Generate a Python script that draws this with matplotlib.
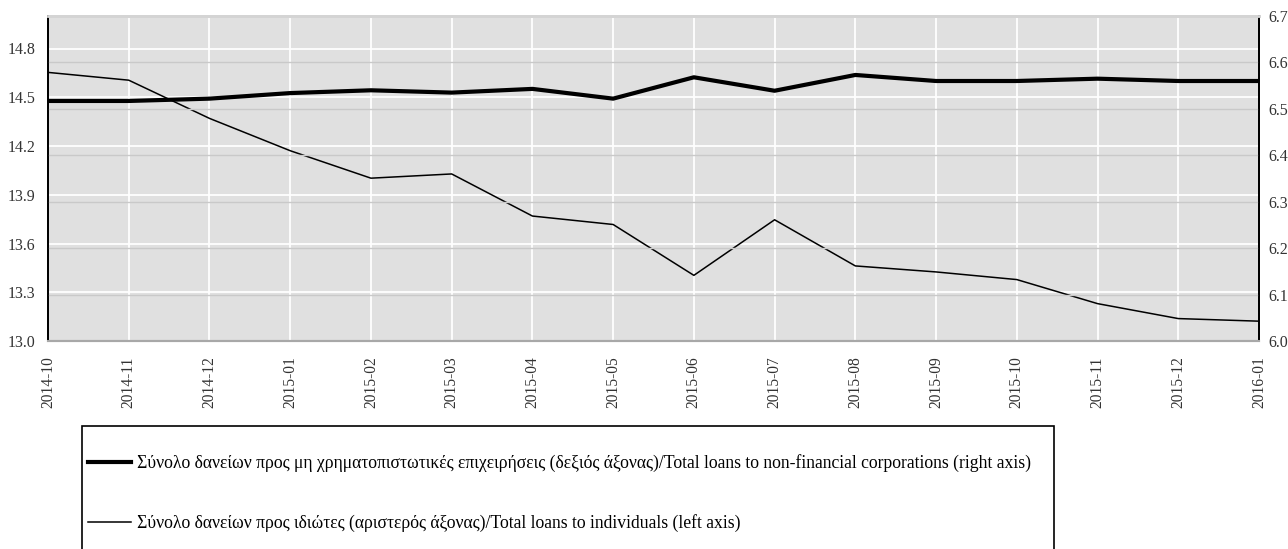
import numpy as np
import matplotlib
matplotlib.use('Agg')
import matplotlib.pyplot as plt
from matplotlib.patches import Rectangle

months = ['2014-10', '2014-11', '2014-12', '2015-01', '2015-02', '2015-03',
          '2015-04', '2015-05', '2015-06', '2015-07', '2015-08', '2015-09',
          '2015-10', '2015-11', '2015-12', '2016-01']
# right axis: loans to non-financial corporations
corporations = [6.517, 6.517, 6.522, 6.534, 6.540, 6.535, 6.543, 6.522,
                6.568, 6.539, 6.573, 6.560, 6.560, 6.565, 6.560, 6.560]
# left axis: loans to individuals
individuals = [14.653, 14.605, 14.370, 14.171, 14.002, 14.028, 13.769, 13.717,
               13.404, 13.746, 13.462, 13.425, 13.378, 13.230, 13.138, 13.122]
left_ticks = [13.0, 13.3, 13.6, 13.9, 14.2, 14.5, 14.8]
right_ticks = [6.0, 6.1, 6.2, 6.3, 6.4, 6.5, 6.6, 6.7]

label_corp = ('Σύνολο δανείων προς μη χρηματοπιστωτικές επιχειρήσεις (δεξιός άξονας)'
              '/Total loans to non-financial corporations (right axis)')
label_ind = 'Σύνολο δανείων προς ιδιώτες (αριστερός άξονας)/Total loans to individuals (left axis)'

plt.rcParams['font.family'] = ['Liberation Serif', 'DejaVu Serif']

W, H = 1288, 549
fig = plt.figure(figsize=(W / 100, H / 100), dpi=100)
ax = fig.add_axes([48 / W, 1 - 341 / H, (1259 - 48) / W, (341 - 16) / H])
ax2 = ax.twinx()

x = np.arange(len(months))
ax.set_facecolor('#e0e0e0')
ax.set_xlim(0, len(months) - 1)
ax.set_ylim(13.0, 15.0)
ax2.set_ylim(6.0, 6.7)

# grid lines
for xi in x[1:-1]:
    ax.axvline(xi, color='white', lw=1.3, zorder=1)
for t in left_ticks[1:]:
    ax.axhline(t, color='white', lw=1.3, zorder=1)
for t in right_ticks[1:-1]:
    ax2.axhline(t, color='#c9c9c9', lw=1.0, zorder=1)

ln_ind, = ax.plot(x, individuals, color='black', lw=1.1, zorder=3)
ln_corp, = ax2.plot(x, corporations, color='black', lw=3.0, zorder=3)

ax.set_xticks(x)
ax.set_xticklabels(months, rotation=90)
ax.set_yticks(left_ticks)
ax.set_yticklabels(['%.1f' % t for t in left_ticks])
ax2.set_yticks(right_ticks)
ax2.set_yticklabels(['%.1f' % t for t in right_ticks])

ax.tick_params(axis='x', length=0, pad=11, labelsize=11.2, labelcolor='#333333')
ax.tick_params(axis='y', length=0, pad=9, labelsize=11.5, labelcolor='#333333')
ax2.tick_params(axis='y', length=0, pad=7, labelsize=11.5, labelcolor='#333333')

for a in (ax, ax2):
    a.spines['left'].set_color('black')
    a.spines['left'].set_linewidth(1.3)
    a.spines['right'].set_color('black')
    a.spines['right'].set_linewidth(1.3)
    a.spines['top'].set_color('#d4d4d4')
    a.spines['top'].set_linewidth(2)
    a.spines['bottom'].set_color('#a8a8a8')
    a.spines['bottom'].set_linewidth(1.5)

# legend box (runs off the bottom of the image)
fig.patches.append(Rectangle((82 / W, -0.1), (1054 - 82) / W, 0.1 + (H - 426) / H,
                             transform=fig.transFigure, fill=False,
                             ec='black', lw=1.2))
fig.legend([ln_corp, ln_ind], [label_corp, label_ind], loc='upper left',
           bbox_to_anchor=(88 / W, 1 - 454 / H), frameon=False,
           fontsize=12.7, handlelength=2.45, handletextpad=0.35,
           labelspacing=2.4, borderpad=0, borderaxespad=0)

plt.savefig('out.png', dpi=100)
